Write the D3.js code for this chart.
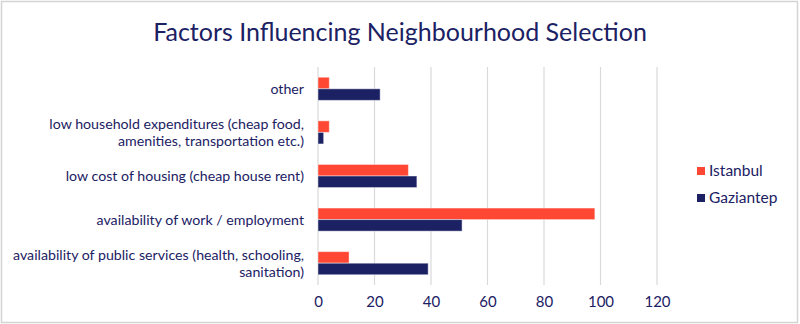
<!DOCTYPE html>
<html>
<head>
<meta charset="utf-8">
<script src="https://cdn.jsdelivr.net/npm/d3@7"></script>
<style>
  html, body { margin: 0; padding: 0; background: #fff; }
  svg { display: block; font-family: Lato, "Open Sans", sans-serif; }
</style>
</head>
<body>
<svg id="chart" width="800" height="324"></svg>
<script>
// Reasons given for choosing a neighbourhood, by city (count of responses)
const categories = [
  "other",
  "low household expenditures (cheap food,|amenities, transportation etc.)",
  "low cost of housing (cheap house rent)",
  "availability of work / employment",
  "availability of public services (health, schooling,|sanitation)"
];
const istanbul  = [4, 4, 32, 98, 11];
const gaziantep = [22, 2, 35, 51, 39];
const seriesNames = ["Istanbul", "Gaziantep"];
const seriesColors = ["#FF4733", "#1B2163"];
const xTicks = [0, 20, 40, 60, 80, 100, 120];
const title = "Factors Influencing Neighbourhood Selection";

const textColor = "#1B2163";
const svg = d3.select("#chart");
const W = 800, H = 324;

// outer frame
svg.append("rect")
  .attr("x", 1.5).attr("y", 1.5)
  .attr("width", W - 4).attr("height", H - 3)
  .attr("fill", "#fff").attr("stroke", "#d4d4d4").attr("stroke-width", 1.5);

// title
svg.append("text")
  .attr("x", 400).attr("y", 41)
  .attr("text-anchor", "middle")
  .attr("font-size", 25)
  .attr("fill", textColor)
  .text(title);

const plot = { left: 318, right: 657, top: 67, bottom: 285 };

const x = d3.scaleLinear().domain([0, 120]).range([plot.left, plot.right]);
const y = d3.scaleBand().domain(categories).range([plot.top, plot.bottom]).paddingInner(0.47).paddingOuter(0.235);
const sub = d3.scaleBand().domain(seriesNames).range([0, y.bandwidth()]);

// vertical gridlines
svg.append("g")
  .selectAll("line")
  .data(xTicks)
  .join("line")
  .attr("x1", d => x(d)).attr("x2", d => x(d))
  .attr("y1", plot.top).attr("y2", plot.bottom)
  .attr("stroke", "#d9d9d9").attr("stroke-width", 1.2);

// x axis tick labels
const xAxis = d3.axisBottom(x).tickValues(xTicks).tickSize(0).tickPadding(11);
const gx = svg.append("g")
  .attr("transform", `translate(0,${plot.bottom})`)
  .call(xAxis);
gx.select(".domain").remove();
gx.selectAll("text")
  .attr("font-family", "Lato, sans-serif")
  .attr("font-size", 15)
  .attr("fill", textColor);

// bars
const rows = categories.map((c, i) => ({ cat: c, vals: [istanbul[i], gaziantep[i]] }));
const groups = svg.append("g")
  .selectAll("g")
  .data(rows)
  .join("g")
  .attr("transform", d => `translate(0,${y(d.cat)})`);

groups.selectAll("rect")
  .data(d => d.vals.map((v, j) => ({ v, s: seriesNames[j], c: seriesColors[j] })))
  .join("rect")
  .attr("x", x(0))
  .attr("y", d => sub(d.s))
  .attr("width", d => x(d.v) - x(0))
  .attr("height", sub.bandwidth())
  .attr("fill", d => d.c)
  .attr("stroke", "rgba(255,255,255,0.45)")
  .attr("stroke-width", 1);

// category labels (split on "|" for wrapped lines)
const labels = svg.append("g")
  .selectAll("text")
  .data(categories)
  .join("text")
  .attr("text-anchor", "end")
  .attr("font-size", 14.2)
  .attr("fill", textColor)
  .attr("x", 304)
  .attr("y", d => y(d) + y.bandwidth() / 2);

labels.each(function(d) {
  const lines = d.split("|");
  const lh = 17;
  const t = d3.select(this);
  lines.forEach((ln, i) => {
    t.append("tspan")
      .attr("x", 304)
      .attr("dy", i === 0 ? (-(lines.length - 1) * lh / 2 + 5) : lh)
      .text(ln);
  });
});

// legend
const legend = svg.append("g")
  .selectAll("g")
  .data(seriesNames)
  .join("g")
  .attr("transform", (d, i) => `translate(697,${167 + i * 27})`);
legend.append("rect")
  .attr("width", 8).attr("height", 8)
  .attr("fill", (d, i) => seriesColors[i]);
legend.append("text")
  .attr("x", 12).attr("y", 9)
  .attr("font-size", 15.5)
  .attr("fill", textColor)
  .text(d => d);
</script>
</body>
</html>
